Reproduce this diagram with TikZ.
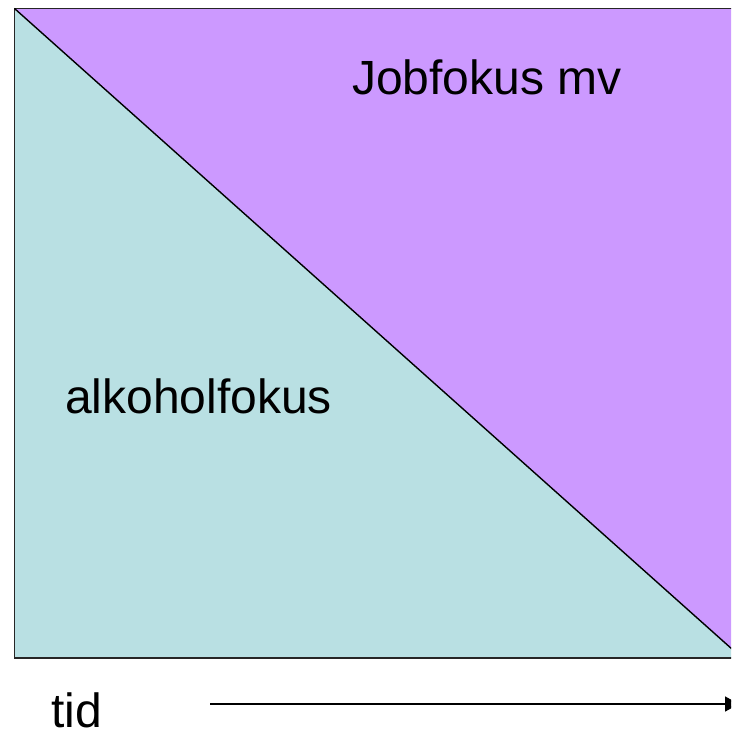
\documentclass[tikz,border=0pt]{standalone}
\usepackage{fontspec}
\setmainfont{Liberation Sans}
\usetikzlibrary{arrows.meta}
\definecolor{jobcol}{RGB}{204,153,255}
\definecolor{alkcol}{RGB}{185,224,227}
\tikzset{
  lbl/.style={font=\fontsize{48}{56}\selectfont, inner sep=0pt, anchor=base west},
  edge/.style={line width=1.6pt, draw=black!85},
}
\begin{document}
\begin{tikzpicture}[x=1pt,y=-1pt]
\useasboundingbox (0,0) rectangle (731,733);
\clip (0,0) rectangle (731,733);
\coordinate (tl) at (14.5,8.5);
\coordinate (tr) at (742,8.5);
\coordinate (bl) at (14.5,658);
\coordinate (br) at (742,658);
\fill[alkcol] (tl) -- (br) -- (bl) -- cycle;
\fill[jobcol] (tl) -- (tr) -- (br) -- cycle;
\draw[edge] (tl) rectangle (br);
\draw[line width=1.4pt] (tl) -- (br);
\node[lbl] (job) at (352,95) {Jobfokus mv};
\node[lbl] (alk) at (65,413) {alkoholfokus};
\node[lbl] (tid) at (51,727) {tid};
\coordinate (a0) at (210,704);
\coordinate (a1) at (739,704);
\draw[line width=1.6pt, -{Triangle[length=14pt,width=15pt]}] (a0) -- (a1);
\end{tikzpicture}
\end{document}
